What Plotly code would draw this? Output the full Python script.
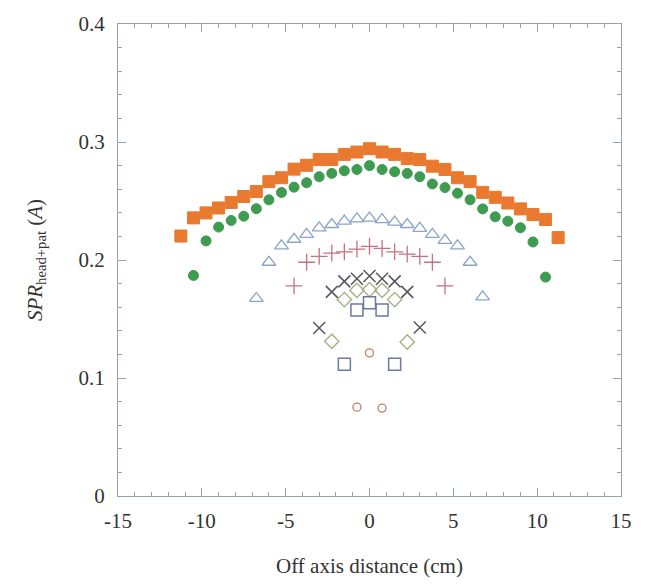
import plotly.graph_objects as go

step = 0.75

# Series values, ordered left to right
orange_sq = [0.2203, 0.2357, 0.2399, 0.2441, 0.2488, 0.2538, 0.2580, 0.2664, 0.2697, 0.2770,
             0.2803, 0.2851, 0.2851, 0.2895, 0.2915, 0.2943, 0.2915, 0.2895, 0.2859, 0.2851,
             0.2795, 0.2767, 0.2697, 0.2664, 0.2573, 0.2531, 0.2483, 0.2433, 0.2385, 0.2343, 0.2190]
green_ci = [0.1869, 0.2162, 0.2279, 0.2335, 0.2371, 0.2435, 0.2510, 0.2572, 0.2617, 0.2655,
            0.2706, 0.2734, 0.2756, 0.2767, 0.2800, 0.2767, 0.2748, 0.2734, 0.2706, 0.2644,
            0.2614, 0.2566, 0.2510, 0.2433, 0.2366, 0.2329, 0.2273, 0.2153, 0.1855]
tri = [0.1674, 0.1981, 0.2120, 0.2176, 0.2218, 0.2273, 0.2301, 0.2329, 0.2349, 0.2355,
       0.2343, 0.2321, 0.2301, 0.2268, 0.2218, 0.2167, 0.2120, 0.1981, 0.1688]
plus = [0.1780, 0.1981, 0.2031, 0.2059, 0.2069, 0.2092, 0.2115, 0.2098, 0.2069, 0.2050,
        0.2031, 0.1981, 0.1780]
xmark = [0.1423, 0.1730, 0.1819, 0.1841, 0.1864, 0.1841, 0.1819, 0.1730, 0.1428]
diam = [0.1311, 0.1665, 0.1743, 0.1749, 0.1743, 0.1665, 0.1305]
open_sq = [0.1116, 0.1576, 0.1637, 0.1576, 0.1116]
open_ci = [0.0753, 0.1213, 0.0745]

x_ticks = [-15, -10, -5, 0, 5, 10, 15]
y_ticks = [0, 0.1, 0.2, 0.3, 0.4]
y_tick_text = ["0", "0.1", "0.2", "0.3", "0.4"]


def xs(values):
    n = len(values)
    half = (n - 1) / 2
    return [round((i - half) * step, 4) for i in range(n)]


series = [
    (orange_sq, "square", "#E8792F", "#E8792F", 12, 1),
    (green_ci, "circle", "#3F9B4F", "#3F9B4F", 10, 1),
    (tri, "triangle-up-open", "#8AA5C9", "#8AA5C9", 12, 1.3),
    (plus, "cross-thin-open", "#C7707F", "#C7707F", 12, 1.3),
    (xmark, "x-thin-open", "#55565F", "#55565F", 12, 1.5),
    (diam, "diamond-open", "#A3B283", "#A3B283", 11, 1.4),
    (open_sq, "square-open", "#6B7AA2", "#6B7AA2", 12, 1.5),
    (open_ci, "circle-open", "#C3806F", "#C3806F", 8, 1.3),
]

fig = go.Figure()
for vals, sym, col, lcol, size, lw in series:
    fig.add_trace(go.Scatter(
        x=xs(vals), y=vals, mode="markers",
        marker=dict(symbol=sym, color=col, size=size, line=dict(color=lcol, width=lw)),
        showlegend=False,
    ))

axis_col = "#91A3B8"
font_main = dict(family="Liberation Serif", size=21, color="#333333")

fig.update_layout(
    width=654, height=586,
    margin=dict(l=118, r=33, t=24, b=86),
    paper_bgcolor="white", plot_bgcolor="white",
    font=font_main,
)
fig.update_xaxes(
    range=[-15, 15], tickvals=x_ticks, ticktext=[str(v) for v in x_ticks],
    showgrid=False, zeroline=False,
    showline=True, linecolor=axis_col, linewidth=1.2, mirror="ticks",
    ticks="inside", ticklen=8, tickcolor=axis_col, tickwidth=1,
    minor=dict(dtick=1, ticks="inside", ticklen=4, tickcolor=axis_col),
    tickfont=font_main, ticklabelstandoff=6,
    title=dict(text="Off axis distance (cm)", font=font_main, standoff=26),
)
fig.update_yaxes(
    range=[0, 0.4], tickvals=y_ticks, ticktext=y_tick_text,
    showgrid=False, zeroline=False,
    showline=True, linecolor=axis_col, linewidth=1.2, mirror="ticks",
    ticks="inside", ticklen=8, tickcolor=axis_col, tickwidth=1,
    minor=dict(dtick=0.02, ticks="inside", ticklen=4, tickcolor=axis_col),
    tickfont=font_main, ticklabelstandoff=8,
    title=dict(text="<i>SPR</i><sub>head+pat</sub> (<i>A</i>)", font=font_main, standoff=30),
)

fig.write_html("out.html")
